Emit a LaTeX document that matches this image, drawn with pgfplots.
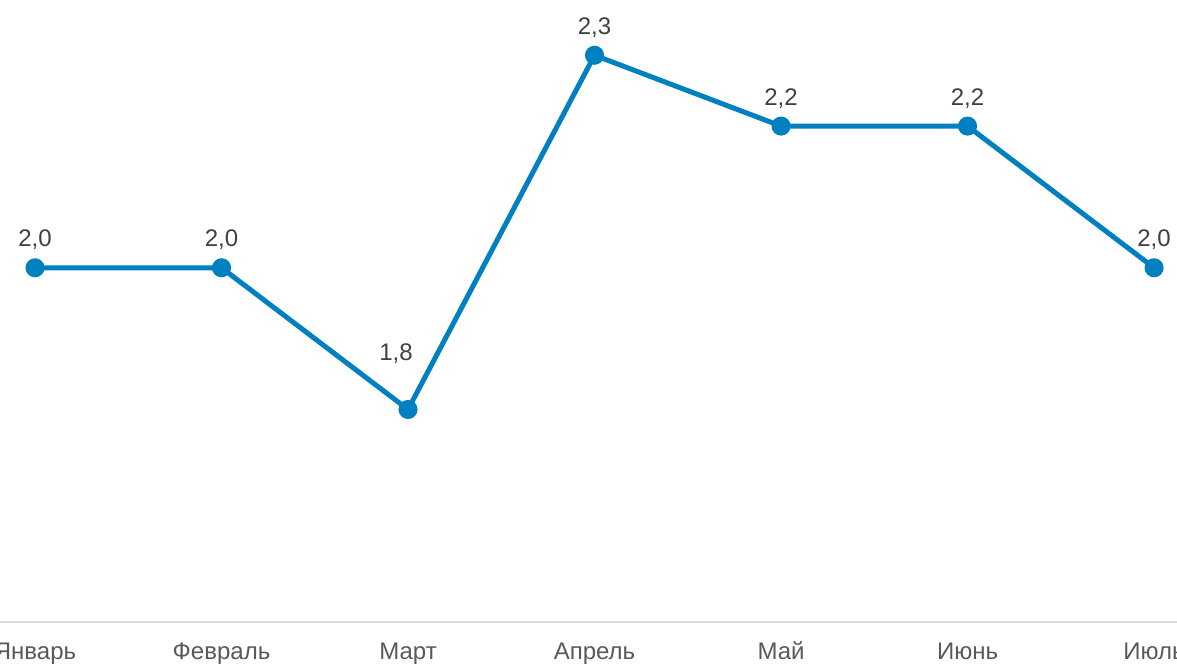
\documentclass[border=0pt]{standalone}
\usepackage{fontspec}
\setmainfont{Liberation Sans}
\usepackage{pgfplots}
\pgfplotsset{compat=1.18}
\definecolor{linecol}{RGB}{0,128,192}
\definecolor{valgray}{RGB}{64,64,64}
\definecolor{tickgray}{RGB}{89,89,89}
\definecolor{axgray}{RGB}{217,217,217}
\begin{document}
\begin{tikzpicture}
\begin{axis}[
  at={(0pt,21pt)}, anchor=south west,
  scale only axis,
  width=588.5pt, height=311pt,
  xmin=-0.1877, xmax=6.123,
  ymin=1.5, ymax=2.378,
  clip=false,
  axis x line=bottom,
  axis y line=none,
  axis line style={draw=axgray, line width=1pt, -},
  xtick={0,1,2,3,4,5,6},
  xticklabels={Январь,Февраль,Март,Апрель,Май,Июнь,Июль},
  major tick length=0pt,
  x tick label style={font=\fontsize{12}{14}\selectfont, text=tickgray, anchor=base, inner sep=0pt, yshift=-18.5pt},
  ytick=\empty,
  point meta=explicit symbolic,
  nodes near coords,
  nodes near coords style={font=\fontsize{12}{14}\selectfont, text=valgray, anchor=base, inner sep=0pt, yshift=10.5pt},
]
\addplot[color=linecol, line width=2.5pt, mark=*, mark size=3.5pt, mark options={fill=linecol, draw=linecol}]
coordinates {(0,2.0) [2{,}0] (1,2.0) [2{,}0] (2,1.8) [] (3,2.3) [2{,}3] (4,2.2) [2{,}2] (5,2.2) [2{,}2] (6,2.0) [2{,}0]};
\addplot[draw=none, mark=none, nodes near coords style={xshift=-6pt, yshift=14pt}]
coordinates {(2,1.8) [1{,}8]};
\end{axis}
\pgfresetboundingbox
\useasboundingbox (0,0) rectangle (588.5pt,332pt);
\end{tikzpicture}
\end{document}
